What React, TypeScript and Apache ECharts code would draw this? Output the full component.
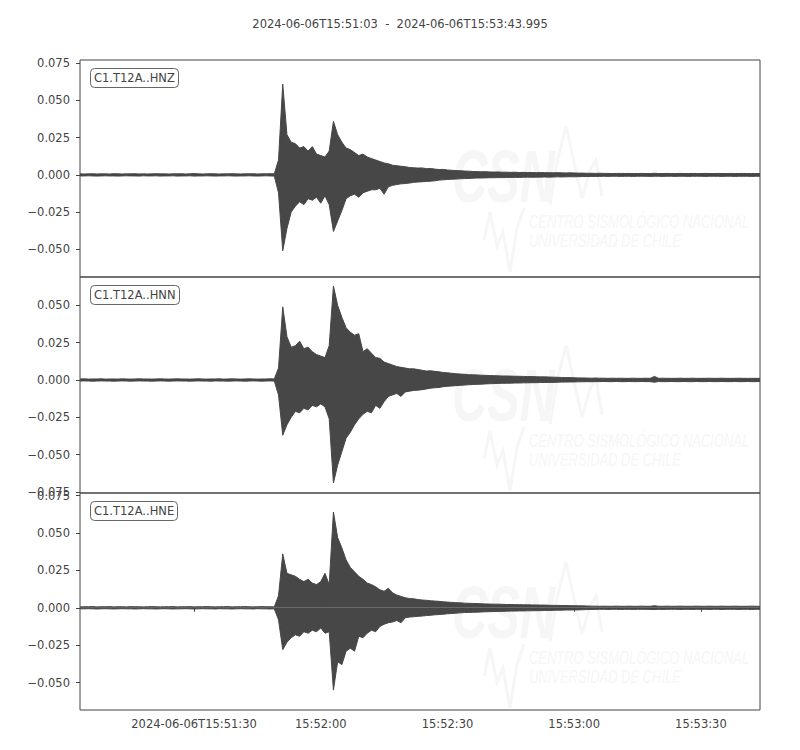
import React, { useEffect, useRef } from 'react'
import * as echarts from 'echarts'

// 标题与台站名
const windowStart = '2024-06-06T15:51:03'
const windowEnd = '2024-06-06T15:53:43.995'
const traceNames = ['C1.T12A..HNZ', 'C1.T12A..HNN', 'C1.T12A..HNE']

// x 轴：距 15:51:03 的秒数
const xTickSeconds = [27, 57, 87, 117, 147]
const xTickLabels = ['2024-06-06T15:51:30', '15:52:00', '15:52:30', '15:53:00', '15:53:30']
const xEnd = 160.995

// y 轴刻度与范围
const yTicksZ = [0.075, 0.05, 0.025, 0, -0.025, -0.05]
const yTicksN = [0.05, 0.025, 0, -0.025, -0.05, -0.075]
const yTicksE = [0.075, 0.05, 0.025, 0, -0.025, -0.05]
const yRangeZ = [-0.0686, 0.0772]
const yRangeN = [-0.0757, 0.069]
const yRangeE = [-0.0683, 0.0767]

// 每秒包络（最大/最小），t = 0..161
const hnzMax = [
  0.0007, 0.0006, 0.0007, 0.0008, 0.0006, 0.0007, 0.0007, 0.0006, 0.0008, 0.0007,
  0.0006, 0.0007, 0.0007, 0.0008, 0.0006, 0.0007, 0.0006, 0.0007, 0.0008, 0.0007,
  0.0007, 0.0006, 0.0007, 0.0007, 0.0008, 0.0006, 0.0007, 0.0009, 0.0007, 0.0006,
  0.0007, 0.0008, 0.0007, 0.0006, 0.0007, 0.0007, 0.0008, 0.0007, 0.0006, 0.0007,
  0.0007, 0.0008, 0.0006, 0.0007, 0.0007, 0.0008, 0.0007, 0.010, 0.061, 0.027,
  0.022, 0.021, 0.018, 0.019, 0.016, 0.019, 0.014, 0.013, 0.012, 0.016,
  0.036, 0.027, 0.022, 0.018, 0.017, 0.015, 0.013, 0.014, 0.012, 0.011,
  0.010, 0.009, 0.008, 0.0075, 0.0065, 0.0062, 0.0058, 0.0055, 0.0050, 0.0048,
  0.0046, 0.0047, 0.0042, 0.0043, 0.0039, 0.0036, 0.0037, 0.0033, 0.0031, 0.0029,
  0.0028, 0.0026, 0.0025, 0.0023, 0.0022, 0.0021, 0.0022, 0.0020, 0.0019, 0.0020,
  0.0018, 0.0018, 0.0017, 0.0018, 0.0016, 0.0017, 0.0016, 0.0016, 0.0015, 0.0016,
  0.0015, 0.0015, 0.0014, 0.0015, 0.0014, 0.0013, 0.0014, 0.0013, 0.0012, 0.0012,
  0.0011, 0.0011, 0.0010, 0.0011, 0.0010, 0.0010, 0.0009, 0.0010, 0.0010, 0.0009,
  0.0010, 0.0009, 0.0009, 0.0010, 0.0009, 0.0009, 0.0011, 0.0009, 0.0009, 0.0010,
  0.0009, 0.0009, 0.0010, 0.0009, 0.0009, 0.0010, 0.0009, 0.0009, 0.0010, 0.0009,
  0.0009, 0.0010, 0.0009, 0.0009, 0.0010, 0.0009, 0.0009, 0.0010, 0.0009, 0.0009,
  0.0009, 0.0009,
]
const hnzMin = [
  -0.0007, -0.0007, -0.0006, -0.0007, -0.0008, -0.0007, -0.0006, -0.0007, -0.0007, -0.0008,
  -0.0007, -0.0006, -0.0007, -0.0007, -0.0008, -0.0006, -0.0007, -0.0007, -0.0006, -0.0008,
  -0.0007, -0.0007, -0.0006, -0.0008, -0.0007, -0.0007, -0.0006, -0.0008, -0.0007, -0.0007,
  -0.0006, -0.0007, -0.0008, -0.0007, -0.0007, -0.0006, -0.0007, -0.0008, -0.0007, -0.0007,
  -0.0006, -0.0007, -0.0008, -0.0007, -0.0006, -0.0007, -0.0008, -0.012, -0.051, -0.036,
  -0.025, -0.021, -0.018, -0.020, -0.016, -0.017, -0.015, -0.019, -0.014, -0.020,
  -0.038, -0.031, -0.024, -0.016, -0.014, -0.013, -0.015, -0.012, -0.011, -0.010,
  -0.010, -0.009, -0.013, -0.008, -0.007, -0.0065, -0.006, -0.0058, -0.0055, -0.0050,
  -0.0048, -0.0046, -0.0044, -0.0042, -0.0040, -0.0035, -0.0033, -0.0031, -0.0029, -0.0028,
  -0.0026, -0.0025, -0.0024, -0.0022, -0.0021, -0.0021, -0.0020, -0.0019, -0.0019, -0.0018,
  -0.0018, -0.0017, -0.0017, -0.0016, -0.0017, -0.0016, -0.0015, -0.0016, -0.0015, -0.0015,
  -0.0014, -0.0015, -0.0014, -0.0013, -0.0014, -0.0013, -0.0012, -0.0013, -0.0012, -0.0011,
  -0.0011, -0.0010, -0.0010, -0.0010, -0.0009, -0.0010, -0.0009, -0.0009, -0.0010, -0.0009,
  -0.0009, -0.0010, -0.0009, -0.0009, -0.0009, -0.0010, -0.0009, -0.0009, -0.0010, -0.0009,
  -0.0009, -0.0010, -0.0009, -0.0009, -0.0010, -0.0009, -0.0009, -0.0009, -0.0010, -0.0009,
  -0.0009, -0.0009, -0.0010, -0.0009, -0.0009, -0.0010, -0.0009, -0.0009, -0.0009, -0.0010,
  -0.0009, -0.0009,
]
const hnnMax = [
  0.0007, 0.0008, 0.0006, 0.0007, 0.0007, 0.0008, 0.0006, 0.0007, 0.0007, 0.0006,
  0.0008, 0.0007, 0.0006, 0.0007, 0.0008, 0.0007, 0.0007, 0.0006, 0.0007, 0.0008,
  0.0007, 0.0006, 0.0007, 0.0008, 0.0007, 0.0007, 0.0006, 0.0007, 0.0008, 0.0007,
  0.0006, 0.0007, 0.0007, 0.0008, 0.0006, 0.0007, 0.0008, 0.0007, 0.0006, 0.0007,
  0.0008, 0.0007, 0.0006, 0.0007, 0.0007, 0.0008, 0.0007, 0.008, 0.049, 0.029,
  0.022, 0.023, 0.026, 0.021, 0.022, 0.019, 0.017, 0.016, 0.015, 0.023,
  0.063, 0.050, 0.042, 0.035, 0.032, 0.030, 0.031, 0.019, 0.021, 0.018,
  0.015, 0.0145, 0.012, 0.011, 0.010, 0.009, 0.0085, 0.008, 0.0075, 0.0075,
  0.0070, 0.0065, 0.0060, 0.0062, 0.0058, 0.0055, 0.0050, 0.0048, 0.0045, 0.0042,
  0.0040, 0.0038, 0.0036, 0.0035, 0.0034, 0.0032, 0.0031, 0.0030, 0.0029, 0.0028,
  0.0027, 0.0027, 0.0026, 0.0025, 0.0025, 0.0024, 0.0023, 0.0023, 0.0022, 0.0021,
  0.0021, 0.0020, 0.0019, 0.0018, 0.0017, 0.0016, 0.0016, 0.0015, 0.0014, 0.0014,
  0.0013, 0.0012, 0.0013, 0.0012, 0.0012, 0.0011, 0.0012, 0.0011, 0.0012, 0.0011,
  0.0011, 0.0012, 0.0011, 0.0011, 0.0012, 0.0011, 0.0024, 0.0011, 0.0012, 0.0011,
  0.0011, 0.0011, 0.0012, 0.0011, 0.0011, 0.0012, 0.0011, 0.0011, 0.0011, 0.0012,
  0.0011, 0.0011, 0.0012, 0.0011, 0.0011, 0.0011, 0.0012, 0.0011, 0.0011, 0.0011,
  0.0011, 0.0011,
]
const hnnMin = [
  -0.0007, -0.0006, -0.0007, -0.0008, -0.0007, -0.0006, -0.0007, -0.0007, -0.0008, -0.0007,
  -0.0006, -0.0007, -0.0008, -0.0007, -0.0006, -0.0007, -0.0007, -0.0008, -0.0007, -0.0006,
  -0.0007, -0.0008, -0.0007, -0.0006, -0.0007, -0.0007, -0.0008, -0.0007, -0.0006, -0.0007,
  -0.0007, -0.0008, -0.0006, -0.0007, -0.0007, -0.0008, -0.0007, -0.0006, -0.0007, -0.0008,
  -0.0007, -0.0006, -0.0007, -0.0008, -0.0007, -0.0006, -0.0007, -0.010, -0.037, -0.030,
  -0.025, -0.021, -0.022, -0.019, -0.020, -0.017, -0.018, -0.016, -0.018, -0.026,
  -0.069, -0.057, -0.048, -0.039, -0.035, -0.030, -0.026, -0.023, -0.021, -0.022,
  -0.017, -0.019, -0.0145, -0.011, -0.010, -0.009, -0.011, -0.008, -0.0075, -0.0070,
  -0.0068, -0.0065, -0.0060, -0.0055, -0.0052, -0.0050, -0.0045, -0.0042, -0.0040, -0.0038,
  -0.0036, -0.0034, -0.0032, -0.0030, -0.0029, -0.0028, -0.0026, -0.0025, -0.0024, -0.0023,
  -0.0022, -0.0022, -0.0021, -0.0020, -0.0020, -0.0019, -0.0019, -0.0018, -0.0018, -0.0017,
  -0.0017, -0.0016, -0.0016, -0.0015, -0.0014, -0.0014, -0.0013, -0.0013, -0.0012, -0.0012,
  -0.0011, -0.0012, -0.0011, -0.0011, -0.0010, -0.0011, -0.0011, -0.0010, -0.0011, -0.0011,
  -0.0010, -0.0011, -0.0011, -0.0010, -0.0011, -0.0011, -0.0015, -0.0010, -0.0011, -0.0011,
  -0.0010, -0.0011, -0.0011, -0.0010, -0.0011, -0.0011, -0.0010, -0.0011, -0.0011, -0.0010,
  -0.0011, -0.0011, -0.0010, -0.0011, -0.0011, -0.0010, -0.0011, -0.0011, -0.0010, -0.0011,
  -0.0011, -0.0010,
]
const hneMax = [
  0.0006, 0.0007, 0.0007, 0.0008, 0.0006, 0.0007, 0.0007, 0.0008, 0.0006, 0.0007,
  0.0007, 0.0006, 0.0008, 0.0007, 0.0007, 0.0006, 0.0007, 0.0008, 0.0007, 0.0006,
  0.0007, 0.0007, 0.0008, 0.0006, 0.0007, 0.0007, 0.0008, 0.0006, 0.0007, 0.0007,
  0.0008, 0.0007, 0.0006, 0.0007, 0.0007, 0.0008, 0.0006, 0.0007, 0.0007, 0.0008,
  0.0007, 0.0006, 0.0007, 0.0008, 0.0007, 0.0007, 0.0006, 0.008, 0.036, 0.023,
  0.022, 0.021, 0.019, 0.0175, 0.019, 0.0165, 0.0155, 0.0175, 0.023, 0.0155,
  0.064, 0.047, 0.040, 0.032, 0.027, 0.024, 0.021, 0.019, 0.0165, 0.0155,
  0.014, 0.012, 0.011, 0.013, 0.010, 0.0085, 0.0076, 0.0067, 0.0062, 0.0060,
  0.0055, 0.0052, 0.0050, 0.0047, 0.0045, 0.0043, 0.0040, 0.0038, 0.0036, 0.0034,
  0.0033, 0.0031, 0.0030, 0.0029, 0.0028, 0.0027, 0.0026, 0.0025, 0.0024, 0.0024,
  0.0023, 0.0022, 0.0022, 0.0021, 0.0021, 0.0020, 0.0020, 0.0019, 0.0019, 0.0018,
  0.0018, 0.0017, 0.0016, 0.0016, 0.0015, 0.0015, 0.0014, 0.0014, 0.0013, 0.0013,
  0.0012, 0.0011, 0.0011, 0.0010, 0.0011, 0.0010, 0.0010, 0.0011, 0.0010, 0.0010,
  0.0011, 0.0010, 0.0010, 0.0011, 0.0010, 0.0010, 0.0014, 0.0010, 0.0010, 0.0011,
  0.0010, 0.0010, 0.0011, 0.0010, 0.0010, 0.0010, 0.0011, 0.0010, 0.0010, 0.0011,
  0.0010, 0.0010, 0.0011, 0.0010, 0.0010, 0.0011, 0.0010, 0.0010, 0.0010, 0.0011,
  0.0010, 0.0010,
]
const hneMin = [
  -0.0007, -0.0007, -0.0006, -0.0007, -0.0008, -0.0007, -0.0006, -0.0007, -0.0008, -0.0007,
  -0.0006, -0.0007, -0.0007, -0.0008, -0.0007, -0.0006, -0.0007, -0.0007, -0.0008, -0.0007,
  -0.0006, -0.0007, -0.0008, -0.0007, -0.0007, -0.0006, -0.0007, -0.0008, -0.0007, -0.0006,
  -0.0007, -0.0007, -0.0008, -0.0006, -0.0007, -0.0007, -0.0008, -0.0007, -0.0006, -0.0007,
  -0.0007, -0.0008, -0.0006, -0.0007, -0.0007, -0.0008, -0.0007, -0.008, -0.028, -0.023,
  -0.020, -0.018, -0.019, -0.016, -0.017, -0.015, -0.016, -0.0135, -0.017, -0.016,
  -0.055, -0.036, -0.038, -0.029, -0.027, -0.029, -0.019, -0.020, -0.017, -0.015,
  -0.016, -0.0125, -0.011, -0.010, -0.0095, -0.0085, -0.010, -0.0067, -0.0062, -0.0060,
  -0.0057, -0.0055, -0.0052, -0.0050, -0.0047, -0.0045, -0.0043, -0.0040, -0.0038, -0.0036,
  -0.0034, -0.0032, -0.0031, -0.0030, -0.0029, -0.0028, -0.0027, -0.0026, -0.0025, -0.0024,
  -0.0024, -0.0023, -0.0022, -0.0022, -0.0021, -0.0021, -0.0020, -0.0020, -0.0019, -0.0019,
  -0.0018, -0.0018, -0.0017, -0.0016, -0.0016, -0.0015, -0.0015, -0.0014, -0.0014, -0.0013,
  -0.0012, -0.0011, -0.0011, -0.0010, -0.0010, -0.0011, -0.0010, -0.0010, -0.0011, -0.0010,
  -0.0010, -0.0011, -0.0010, -0.0010, -0.0010, -0.0011, -0.0012, -0.0010, -0.0011, -0.0010,
  -0.0010, -0.0010, -0.0011, -0.0010, -0.0010, -0.0011, -0.0010, -0.0010, -0.0010, -0.0011,
  -0.0010, -0.0010, -0.0011, -0.0010, -0.0010, -0.0010, -0.0011, -0.0010, -0.0010, -0.0011,
  -0.0010, -0.0010,
]

const TRACE_COLOR = '#474747'
const TEXT_COLOR = '#444'
const WATERMARK = '#f6f6f6'
const FONT = '"DejaVu Sans", sans-serif'

const gridTops = [60, 277, 493]
const gridHeights = [217, 216, 217]

const formatAmp = (v: number) => (v < 0 ? '\u2212' : '') + Math.abs(v).toFixed(3)

// CSN 水印（每个分图一份）
const watermark = (dy: number) => [
  {
    type: 'text',
    x: 452,
    y: 139 + dy,
    scaleX: 0.66,
    z: 0,
    style: {
      text: 'CSN',
      fill: WATERMARK,
      font: 'italic bold 74px "Liberation Sans", sans-serif',
    },
  },
  {
    type: 'polyline',
    y: dy,
    z: 0,
    shape: { points: [[550, 205], [557, 162], [566, 126], [574, 162], [582, 198], [590, 170], [596, 160], [602, 196]] },
    style: { stroke: WATERMARK, lineWidth: 3, fill: null },
  },
  {
    type: 'polyline',
    y: dy,
    z: 0,
    shape: { points: [[484, 240], [490, 212], [497, 246], [503, 232], [510, 272], [517, 228], [524, 208]] },
    style: { stroke: WATERMARK, lineWidth: 3, fill: null },
  },
  {
    type: 'text',
    x: 529,
    y: 213 + dy,
    scaleX: 0.72,
    z: 0,
    style: {
      text: 'CENTRO SISMOLÓGICO NACIONAL',
      fill: WATERMARK,
      font: 'italic 18px "Liberation Sans", sans-serif',
    },
  },
  {
    type: 'text',
    x: 529,
    y: 232 + dy,
    scaleX: 0.72,
    z: 0,
    style: {
      text: 'UNIVERSIDAD DE CHILE',
      fill: WATERMARK,
      font: 'italic 18px "Liberation Sans", sans-serif',
    },
  },
]

const App: React.FC = () => {
  const chartRef = useRef<HTMLDivElement>(null)

  useEffect(() => {
    if (!chartRef.current) return
    const chart = echarts.init(chartRef.current, null, { renderer: 'svg' })

    const traces = [
      { name: traceNames[0], max: hnzMax, min: hnzMin, range: yRangeZ, ticks: yTicksZ },
      { name: traceNames[1], max: hnnMax, min: hnnMin, range: yRangeN, ticks: yTicksN },
      { name: traceNames[2], max: hneMax, min: hneMin, range: yRangeE, ticks: yTicksE },
    ]

    const grid = traces.map((_, i) => ({
      left: 80,
      width: 680,
      top: gridTops[i],
      height: gridHeights[i],
      show: true,
      borderColor: TEXT_COLOR,
      borderWidth: 1,
      backgroundColor: 'transparent',
    }))

    const xAxis = traces.map((_, i) => {
      const isLast = i === traces.length - 1
      return {
        type: 'value',
        gridIndex: i,
        min: 0,
        max: xEnd,
        axisLine: { show: false },
        splitLine: { show: false },
        axisTick: {
          show: isLast,
          length: 4,
          customValues: xTickSeconds,
          lineStyle: { color: TEXT_COLOR },
        },
        axisLabel: {
          show: isLast,
          customValues: xTickSeconds,
          margin: 8,
          color: TEXT_COLOR,
          fontSize: 11.5,
          fontFamily: FONT,
          formatter: (v: number) => {
            const k = xTickSeconds.indexOf(Math.round(v))
            return k >= 0 ? xTickLabels[k] : ''
          },
        },
      }
    })

    const yAxis = traces.map((tr, i) => ({
      type: 'value',
      gridIndex: i,
      min: tr.range[0],
      max: tr.range[1],
      axisLine: { show: false },
      splitLine: { show: false },
      axisTick: {
        show: true,
        length: 4,
        customValues: tr.ticks,
        lineStyle: { color: TEXT_COLOR },
      },
      axisLabel: {
        customValues: tr.ticks,
        margin: 10,
        color: TEXT_COLOR,
        fontSize: 11.5,
        fontFamily: FONT,
        formatter: formatAmp,
      },
    }))

    const series: any[] = []
    traces.forEach((tr, i) => {
      ;[tr.max, tr.min].forEach(arr => {
        series.push({
          type: 'line',
          xAxisIndex: i,
          yAxisIndex: i,
          data: arr.map((v, t) => [t, v]),
          symbol: 'none',
          showSymbol: false,
          silent: true,
          z: 2,
          lineStyle: { color: TRACE_COLOR, width: 1 },
          areaStyle: { color: TRACE_COLOR, opacity: 1 },
        })
      })
    })

    const titles = [
      {
        text: `${windowStart}  -  ${windowEnd}`,
        left: 'center',
        top: 13,
        textStyle: { color: TEXT_COLOR, fontSize: 11.5, fontWeight: 'normal', fontFamily: FONT },
      },
      ...traces.map((tr, i) => ({
        text: tr.name,
        left: 90,
        top: gridTops[i] + 8,
        padding: [4, 4],
        borderColor: '#666',
        borderWidth: 1,
        borderRadius: 4,
        backgroundColor: '#fff',
        textStyle: { color: TEXT_COLOR, fontSize: 11.5, fontWeight: 'normal', fontFamily: FONT },
      })),
    ]

    chart.setOption({
      animation: false,
      backgroundColor: '#fff',
      title: titles,
      graphic: { elements: [...watermark(0), ...watermark(219), ...watermark(436)] },
      grid,
      xAxis,
      yAxis,
      series,
    })

    return () => {
      chart.dispose()
    }
  }, [])

  return (
    <div
      ref={chartRef}
      style={{ position: 'absolute', left: 0, top: 0, width: 800, height: 750 }}
    />
  )
}

export default App
